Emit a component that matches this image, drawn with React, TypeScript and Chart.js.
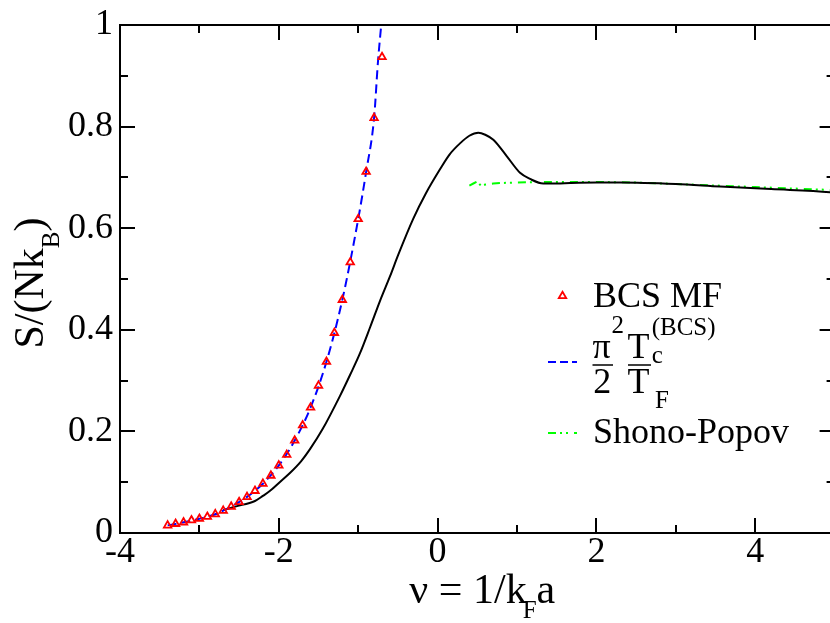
import React, { useEffect, useRef } from 'react';
import { Chart, registerables } from 'chart.js';
Chart.register(...registerables);

const FONT = '"Liberation Serif"';

// BCS mean-field points (triangles)
const bcsNu = [-3.4, -3.3, -3.2, -3.1, -3.0, -2.9, -2.8, -2.7, -2.6, -2.5, -2.4, -2.3, -2.2, -2.1, -2.0, -1.9, -1.8, -1.7, -1.6, -1.5, -1.4, -1.3, -1.2, -1.1, -1.0, -0.9, -0.8, -0.7];
const bcsS = [0.015, 0.018, 0.021, 0.025, 0.028, 0.032, 0.037, 0.044, 0.052, 0.061, 0.071, 0.083, 0.097, 0.113, 0.133, 0.154, 0.182, 0.212, 0.247, 0.29, 0.337, 0.394, 0.459, 0.533, 0.618, 0.711, 0.817, 0.937];

// pi^2/2 Tc/TF curve (blue dashed)
const bcsTcNu = [-3.4, -3.2, -3.0, -2.8, -2.6, -2.4, -2.2, -2.0, -1.8, -1.6, -1.4, -1.2, -1.0, -0.9, -0.8, -0.75, -0.71];
const bcsTcS = [0.015, 0.021, 0.028, 0.037, 0.052, 0.071, 0.097, 0.133, 0.182, 0.247, 0.337, 0.459, 0.618, 0.711, 0.817, 0.93, 1.0];

// full theory (black solid)
const fullNu = [-2.7, -2.55, -2.3, -2.2, -2.11, -1.985, -1.86, -1.72, -1.607, -1.45, -1.229, -1.1, -0.977, -0.85, -0.725, -0.6, -0.495, -0.306, -0.15, 0.03, 0.15, 0.282, 0.4, 0.513, 0.6, 0.702, 0.87, 1.038, 1.164, 1.331, 1.5, 1.67, 2.0, 2.3, 3.0, 3.557, 4.2, 4.94, 5.0];
const fullS = [0.045, 0.052, 0.063, 0.073, 0.083, 0.1005, 0.118, 0.141, 0.165, 0.204, 0.27, 0.312, 0.354, 0.405, 0.457, 0.505, 0.548, 0.619, 0.668, 0.716, 0.745, 0.767, 0.782, 0.788, 0.784, 0.774, 0.742, 0.709, 0.697, 0.688, 0.688, 0.689, 0.69, 0.69, 0.687, 0.682, 0.677, 0.671, 0.67];

// Shono-Popov (green dash-dot)
const spNu = [0.4, 0.45, 0.5, 0.55, 0.6, 0.7, 0.8, 1.0, 1.3, 1.6, 2.0, 2.5, 3.0, 3.5, 4.0, 4.5, 5.0];
const spS = [0.684, 0.688, 0.692, 0.683, 0.686, 0.688, 0.689, 0.69, 0.691, 0.691, 0.691, 0.69, 0.687, 0.684, 0.681, 0.678, 0.675];

const xTickVals = [-4, -3, -2, -1, 0, 1, 2, 3, 4, 5];
const xLabelVals = [-4, -2, 0, 2, 4];
const yTickVals = [0, 0.1, 0.2, 0.3, 0.4, 0.5, 0.6, 0.7, 0.8, 0.9, 1.0];

const pts = (xs: number[], ys: number[]) => xs.map((x, i) => ({ x, y: ys[i] }));

const f = (size: number) => `${size}px ${FONT}`;

const decorPlugin = {
  id: 'decor',
  afterDraw(chart: any) {
    const { ctx, chartArea: a, scales } = chart;
    const xs = scales.x;
    const ys = scales.y;
    ctx.save();
    ctx.strokeStyle = '#000';
    ctx.lineWidth = 2;
    ctx.setLineDash([]);
    ctx.strokeRect(a.left, a.top, a.right - a.left, a.bottom - a.top);
    ctx.beginPath();
    xTickVals.forEach((v) => {
      const p = Math.round(xs.getPixelForValue(v));
      const len = xLabelVals.includes(v) ? 15 : 8;
      ctx.moveTo(p, a.bottom);
      ctx.lineTo(p, a.bottom - len);
      ctx.moveTo(p, a.top);
      ctx.lineTo(p, a.top + len);
    });
    yTickVals.forEach((v, i) => {
      const p = Math.round(ys.getPixelForValue(v));
      const len = i % 2 === 0 ? 15 : 8;
      ctx.moveTo(a.left, p);
      ctx.lineTo(a.left + len, p);
      ctx.moveTo(a.right, p);
      ctx.lineTo(a.right - len, p);
    });
    ctx.stroke();

    ctx.fillStyle = '#000';
    ctx.textBaseline = 'alphabetic';
    ctx.textAlign = 'left';

    // x axis title: ν = 1/k_F a
    {
      const big = 42, small = 25;
      ctx.font = f(big);
      const w1 = ctx.measureText('\u03bd = 1/k').width;
      const wa = ctx.measureText('a').width;
      ctx.font = f(small);
      const wF = ctx.measureText('F').width;
      const total = w1 + wF + wa - 4;
      let x = (a.left + a.right) / 2 + 5 - total / 2;
      const base = 603;
      ctx.font = f(big);
      ctx.fillText('\u03bd = 1/k', x, base);
      x += w1 - 4;
      ctx.font = f(small);
      ctx.fillText('F', x, base + 15);
      x += wF;
      ctx.font = f(big);
      ctx.fillText('a', x, base);
    }

    // y axis title: S/(Nk_B)
    {
      const big = 42, small = 25;
      ctx.font = f(big);
      const w1 = ctx.measureText('S/(Nk').width;
      const w3 = ctx.measureText(')').width;
      ctx.font = f(small);
      const wB = ctx.measureText('B').width;
      const total = w1 + wB + w3;
      ctx.save();
      ctx.translate(43, (a.top + a.bottom) / 2 + 4);
      ctx.rotate(-Math.PI / 2);
      let x = -total / 2;
      ctx.font = f(big);
      ctx.fillText('S/(Nk', x, 0);
      x += w1;
      ctx.font = f(small);
      ctx.fillText('B', x, 16);
      x += wB;
      ctx.font = f(big);
      ctx.fillText(')', x, 0);
      ctx.restore();
    }

    // legend
    {
      const lx0 = 548, lx1 = 577, tx = 593;
      const r = 4.3, cx = 562.5, cy = 296;
      ctx.strokeStyle = '#ff0000';
      ctx.lineWidth = 1.8;
      ctx.beginPath();
      ctx.moveTo(cx, cy - r);
      ctx.lineTo(cx + r * Math.sin(Math.PI * 2 / 3), cy + r * 0.5);
      ctx.lineTo(cx - r * Math.sin(Math.PI * 2 / 3), cy + r * 0.5);
      ctx.closePath();
      ctx.stroke();
      ctx.font = f(36);
      ctx.fillText('BCS MF', tx, 307);

      ctx.strokeStyle = '#0000ff';
      ctx.lineWidth = 2;
      ctx.setLineDash([8, 4]);
      ctx.beginPath();
      ctx.moveTo(lx0, 362);
      ctx.lineTo(lx1, 362);
      ctx.stroke();
      ctx.setLineDash([]);
      ctx.font = f(36);
      ctx.fillText('\u03c0', 592.5, 358);
      ctx.font = f(25);
      ctx.fillText('2', 611.5, 333);
      ctx.font = f(36);
      ctx.fillText('2', 593.3, 393);
      ctx.fillText('T', 627.5, 358);
      ctx.fillText('T', 627.5, 393);
      ctx.font = f(25);
      ctx.fillText('c', 651.7, 363);
      ctx.fillText('(BCS)', 651.7, 335);
      ctx.fillText('F', 655, 408);
      ctx.strokeStyle = '#000';
      ctx.lineWidth = 1.6;
      ctx.beginPath();
      ctx.moveTo(592.5, 365);
      ctx.lineTo(613, 365);
      ctx.moveTo(628, 365);
      ctx.lineTo(651, 365);
      ctx.stroke();

      ctx.strokeStyle = '#00ff00';
      ctx.lineWidth = 2;
      ctx.setLineDash([8, 4, 2, 4, 2, 6]);
      ctx.beginPath();
      ctx.moveTo(lx0, 433);
      ctx.lineTo(lx1, 433);
      ctx.stroke();
      ctx.setLineDash([]);
      ctx.font = f(36);
      ctx.fillText('Shono-Popov', tx, 443);
    }
    ctx.restore();
  },
};

export default function App() {
  const ref = useRef<HTMLCanvasElement | null>(null);
  useEffect(() => {
    if (!ref.current) return;
    const chart = new Chart(ref.current, {
      type: 'scatter',
      data: {
        datasets: [
          {
            label: 'BCS MF',
            data: pts(bcsNu, bcsS),
            showLine: false,
            pointStyle: 'triangle',
            pointRadius: 4.3,
            pointBorderWidth: 1.8,
            pointBorderColor: '#ff0000',
            pointBackgroundColor: 'rgba(0,0,0,0)',
          },
          {
            label: 'Tc',
            data: pts(bcsTcNu, bcsTcS),
            showLine: true,
            pointRadius: 0,
            borderColor: '#0000ff',
            borderWidth: 2,
            borderDash: [9, 5],
            cubicInterpolationMode: 'monotone',
          },
          {
            label: 'full',
            data: pts(fullNu, fullS),
            showLine: true,
            pointRadius: 0,
            borderColor: '#000000',
            borderWidth: 2,
            cubicInterpolationMode: 'monotone',
          },
          {
            label: 'Shono-Popov',
            data: pts(spNu, spS),
            showLine: true,
            pointRadius: 0,
            borderColor: '#00ff00',
            borderWidth: 2,
            borderDash: [8, 4, 2, 4, 2, 6],
            tension: 0,
          },
        ],
      } as any,
      options: {
        animation: false,
        responsive: false,
        devicePixelRatio: 1,
        layout: { padding: { top: 17, right: 15.4, left: 0, bottom: 0 } },
        plugins: { legend: { display: false }, tooltip: { enabled: false } },
        scales: {
          x: {
            type: 'linear',
            min: -4,
            max: 5,
            grid: { display: false, drawTicks: false },
            border: { display: false },
            afterFit: (s: any) => { s.height = 90; },
            afterBuildTicks: (s: any) => { s.ticks = xTickVals.map((v) => ({ value: v })); },
            ticks: {
              autoSkip: false,
              maxRotation: 0,
              minRotation: 0,
              padding: 2,
              color: '#000',
              font: { family: FONT, size: 36, lineHeight: 1 },
              callback: (v: any) => (xLabelVals.includes(Number(v)) ? String(v) : ''),
            },
          },
          y: {
            type: 'linear',
            min: 0,
            max: 1,
            grid: { display: false, drawTicks: false },
            border: { display: false },
            afterFit: (s: any) => { s.width = 120; },
            afterBuildTicks: (s: any) => { s.ticks = yTickVals.map((v) => ({ value: v })); },
            ticks: {
              autoSkip: false,
              padding: 7,
              color: '#000',
              font: { family: FONT, size: 36, lineHeight: 1 },
              callback: (v: any) => {
                const n = Math.round(Number(v) * 10);
                if (n % 2 !== 0) return '';
                if (n === 0) return '0';
                if (n === 10) return '1';
                return (n / 10).toFixed(1);
              },
            },
          },
        },
      } as any,
      plugins: [decorPlugin],
    });
    return () => chart.destroy();
  }, []);
  return (
    <div style={{ position: 'absolute', left: 0, top: 0, width: 830, height: 623, overflow: 'hidden', background: '#fff' }}>
      <canvas ref={ref} width={850} height={623} style={{ display: 'block', width: 850, height: 623 }} />
    </div>
  );
}
